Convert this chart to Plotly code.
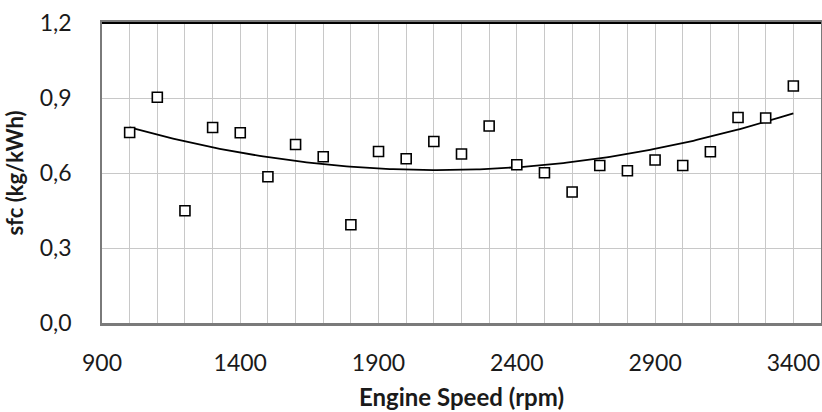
import numpy as np
import plotly.graph_objects as go

engine_speed = [1000, 1100, 1200, 1300, 1400, 1500, 1600, 1700, 1800, 1900, 2000, 2100, 2200,
                2300, 2400, 2500, 2600, 2700, 2800, 2900, 3000, 3100, 3200, 3300, 3400]
sfc = [0.762, 0.903, 0.449, 0.782, 0.761, 0.585, 0.714, 0.665, 0.393, 0.686, 0.657, 0.726, 0.676,
       0.788, 0.633, 0.601, 0.524, 0.630, 0.609, 0.652, 0.630, 0.685, 0.822, 0.820, 0.948]
x_ticks = [900, 1400, 1900, 2400, 2900, 3400]
y_ticks = [0.0, 0.3, 0.6, 0.9, 1.2]

# Polynomial (order 2) trendline fitted to the data, like the spreadsheet trendline
coef = np.polyfit(engine_speed, sfc, 2)
trend_x = np.linspace(min(engine_speed), max(engine_speed), 200)
trend_y = np.polyval(coef, trend_x)

FONT = "Lato"
TXT = "#1a1a1a"

fig = go.Figure()
fig.add_trace(go.Scatter(x=trend_x, y=trend_y, mode="lines",
                         line=dict(color="black", width=1.8), hoverinfo="skip", showlegend=False))
fig.add_trace(go.Scatter(x=engine_speed, y=sfc, mode="markers",
                         marker=dict(symbol="square", size=10, color="white",
                                     line=dict(color="black", width=1.6)),
                         showlegend=False))

fig.update_layout(
    width=822, height=412,
    margin=dict(l=102, r=1, t=23, b=89),
    paper_bgcolor="white", plot_bgcolor="white",
    separators=",.",
    font=dict(family=FONT, size=23, color=TXT),
    xaxis=dict(range=[900, 3500], tickvals=x_ticks, ticks="", showgrid=True,
               gridcolor="#c8c8c8", gridwidth=1,
               minor=dict(dtick=100, tick0=900, showgrid=True, gridcolor="#c8c8c8", gridwidth=1),
               showline=True, linecolor="#7a7a7a", linewidth=2.5, mirror=True,
               zeroline=False, ticklabelstandoff=18, automargin=False,
               title=dict(text="<b>Engine Speed (rpm)</b>", font=dict(size=24, color=TXT), standoff=14)),
    yaxis=dict(range=[0, 1.2], tickvals=y_ticks, tickformat=".1f", ticks="", showgrid=True,
               gridcolor="#c8c8c8", gridwidth=1,
               showline=True, linecolor="#7a7a7a", linewidth=1.5, mirror=True,
               zeroline=False, ticklabelstandoff=24, automargin=False,
               title=dict(text="<b>sfc (kg/kWh)</b>", font=dict(size=22, color=TXT), standoff=10)),
)
# top border darker
fig.add_shape(type="line", xref="paper", yref="paper", x0=0, x1=1, y0=1, y1=1,
              line=dict(color="black", width=2))

fig.write_html("out.html", config={"displayModeBar": False},
               post_script="document.body.style.margin='0';document.body.style.overflow='hidden';")
